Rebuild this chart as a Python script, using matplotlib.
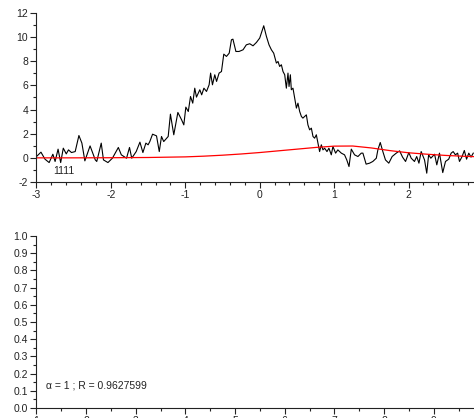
import matplotlib
matplotlib.use('Agg')
import matplotlib.pyplot as plt
from matplotlib.ticker import MultipleLocator

plt.rcParams['font.family'] = ['Liberation Sans', 'DejaVu Sans']
plt.rcParams['axes.unicode_minus'] = False

x_signal = [
    -3.0, -2.94, -2.886, -2.83, -2.78, -2.75, -2.71, -2.675, -2.64, -2.60,
    -2.57, -2.53, -2.48, -2.43, -2.39, -2.35, -2.28, -2.21, -2.19, -2.13,
    -2.10, -2.04, -1.98, -1.90, -1.86, -1.79, -1.75, -1.72, -1.66, -1.61,
    -1.57, -1.53, -1.50,
    -1.477, -1.44, -1.387, -1.35, -1.32, -1.29, -1.25, -1.23, -1.20, -1.155,
    -1.10, -1.05, -1.02, -0.993, -0.96, -0.93, -0.90, -0.873, -0.85, -0.805,
    -0.78, -0.75, -0.715, -0.68, -0.66, -0.635, -0.604, -0.58, -0.546, -0.514,
    -0.483, -0.447, -0.41, -0.38, -0.36, -0.32, -0.278, -0.224, -0.18,
    -0.134, -0.09, -0.044, 0.0, 0.054, 0.09, 0.125, 0.157, 0.188, 0.224,
    0.246, 0.268, 0.291, 0.313, 0.336, 0.358, 0.38, 0.394, 0.412, 0.425,
    0.447, 0.47, 0.493, 0.514, 0.537, 0.56, 0.58, 0.627, 0.648, 0.671,
    0.694, 0.716, 0.738, 0.761, 0.783, 0.805, 0.828, 0.85, 0.872, 0.904,
    0.93, 0.962, 0.984, 1.02, 1.05, 1.097, 1.14, 1.17, 1.2,
    1.231, 1.275, 1.32, 1.365, 1.387, 1.43, 1.477, 1.52, 1.567, 1.588,
    1.62, 1.655, 1.69, 1.735, 1.78, 1.835, 1.88, 1.92, 1.96, 2.004,
    2.036, 2.08, 2.11, 2.14, 2.17, 2.215, 2.245, 2.27, 2.30, 2.35,
    2.38, 2.416, 2.46, 2.497, 2.54, 2.573, 2.60, 2.63, 2.66, 2.685,
    2.72, 2.75, 2.78, 2.81, 2.84, 2.87,
]
y_signal = [
    0.11, 0.47, -0.11, -0.39, 0.30, -0.30, 0.72, -0.39, 0.80, 0.33,
    0.66, 0.44, 0.52, 1.85, 1.22, -0.25, 0.99, -0.17, -0.30, 1.22,
    -0.17, -0.39, -0.03, 0.86, 0.25, -0.03, 0.86, -0.03, 0.52, 1.30,
    0.44, 1.22, 1.08,
    1.35, 1.96, 1.82, 0.52, 1.77, 1.35, 1.63, 1.77, 3.62, 1.91,
    3.76, 3.15, 2.73, 4.20, 3.84, 5.08, 4.53, 5.77, 5.03, 5.64,
    5.22, 5.77, 5.50, 6.05, 7.02, 6.05, 6.88, 6.33, 7.02, 7.15,
    8.59, 8.40, 8.67, 9.78, 9.83, 8.81, 8.81, 8.95, 9.36,
    9.45, 9.28, 9.56, 9.92, 10.94, 10.06, 9.36, 8.95, 8.67, 7.85,
    7.98, 7.57, 7.71, 7.15, 6.88, 5.77, 7.02, 5.91, 6.88, 5.64,
    5.77, 4.94, 4.12, 4.53, 3.84, 3.43, 3.29, 3.56, 2.73, 2.32,
    2.46, 1.77, 1.63, 1.91, 1.22, 0.52, 1.08, 0.66, 0.80, 0.52,
    0.80, 0.25, 0.94, 0.39, 0.66, 0.39, 0.25, -0.17, -0.72,
    0.72, 0.25, 0.11, 0.39, 0.39, -0.52, -0.44, -0.30, -0.03, 0.66,
    1.27, 0.52, -0.17, -0.44, 0.11, 0.39, 0.58, 0.06, -0.30, 0.44,
    -0.03, -0.30, 0.11, -0.44, 0.52, -0.17, -1.27, 0.25, -0.03, 0.30,
    -0.58, 0.39, -1.22, -0.30, -0.11, 0.39, 0.52, 0.25, 0.39, -0.30,
    0.11, 0.61, -0.11, 0.39, 0.06, 0.39,
]

# fitted curve (red)
x_fit = [-3.0, -2.5, -2.0, -1.5, -1.0, -0.75, -0.5, -0.25, 0.0, 0.25, 0.5,
         0.75, 1.0, 1.25, 1.5, 1.75, 2.0, 2.25, 2.5, 2.75, 2.88]
y_fit = [0.0, 0.0, 0.01, 0.03, 0.08, 0.14, 0.22, 0.32, 0.44, 0.58, 0.72,
         0.86, 0.97, 0.98, 0.82, 0.60, 0.42, 0.30, 0.20, 0.13, 0.10]

top_label = '1111'
bottom_label = 'α = 1 ; R = 0.9627599'

fs = 7.5


def style_axes(ax):
    for side in ('top', 'right'):
        ax.spines[side].set_visible(False)
    for side in ('left', 'bottom'):
        ax.spines[side].set_color('#222222')
        ax.spines[side].set_linewidth(0.8)
    ax.tick_params(which='major', direction='out', length=4, width=0.8,
                   labelsize=fs, colors='#222222', pad=2)
    ax.tick_params(which='minor', direction='out', length=2, width=0.8,
                   colors='#222222')


fig = plt.figure(figsize=(4.74, 4.18), dpi=100)

# top panel
ax1 = fig.add_axes([0.077, 0.5646, 0.923, 0.4044])
ax1.plot(x_signal, y_signal, color='black', linewidth=0.8)
ax1.plot(x_fit, y_fit, color='red', linewidth=0.9)
ax1.set_xlim(-3, 2.88)
ax1.set_ylim(-2, 12)
ax1.xaxis.set_major_locator(MultipleLocator(1))
ax1.xaxis.set_minor_locator(MultipleLocator(0.2))
ax1.yaxis.set_major_locator(MultipleLocator(2))
ax1.yaxis.set_minor_locator(MultipleLocator(1))
style_axes(ax1)
ax1.text(-2.77, -1.05, top_label, fontsize=fs, va='center', ha='left',
         color='#222222')

# bottom panel (empty)
ax2 = fig.add_axes([0.077, 0.0239, 0.923, 0.4115])
ax2.set_xlim(1, 9.81)
ax2.set_ylim(0, 1)
ax2.xaxis.set_major_locator(MultipleLocator(1))
ax2.xaxis.set_minor_locator(MultipleLocator(0.5))
ax2.yaxis.set_major_locator(MultipleLocator(0.1))
ax2.yaxis.set_minor_locator(MultipleLocator(0.05))
style_axes(ax2)
ax2.text(1.19, 0.13, bottom_label, fontsize=fs, va='center', ha='left',
         color='#222222')

fig.savefig('out.png', dpi=100)
